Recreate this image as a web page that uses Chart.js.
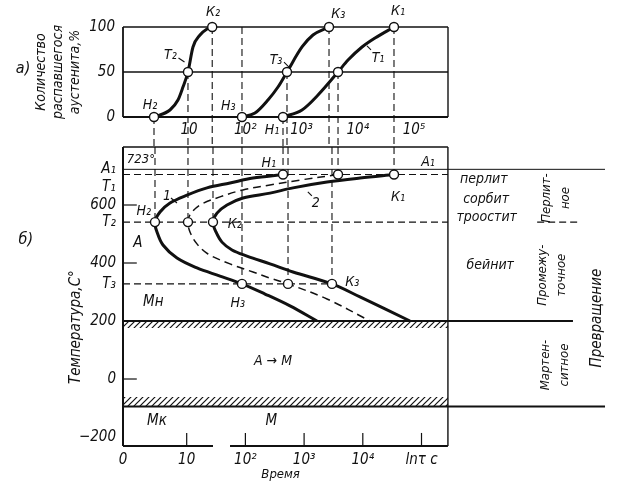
<!DOCTYPE html>
<html>
<head>
<meta charset="utf-8">
<script src="https://cdn.jsdelivr.net/npm/chart.js@4.4.1/dist/chart.umd.min.js"></script>
<style>
  html, body { margin: 0; background: #fff; }
  #wrap { position: relative; width: 623px; height: 488px; }
  canvas { position: absolute; left: 0; top: 0; }
</style>
</head>
<body>
<div id="wrap">
  <canvas id="top" width="623" height="488"></canvas>
  <canvas id="bot" width="623" height="488"></canvas>
</div>
<script>
// --- panel a): share of decomposed austenite vs lg(time) ---
const aTicks = [1, 2, 3, 4, 5]
const aTickLabels = ['10', '10²', '10³', '10⁴', '10⁵']
const aPct = [0, 50, 100]

// isotherm T2
const a2x = [0.378, 0.662, 0.804, 0.893, 0.982, 1.071, 1.196, 1.32, 1.413]
const a2y = [0, 7.8, 18.9, 33.3, 50, 77.8, 91.1, 97.8, 100]
// isotherm T3
const a3x = [1.942, 2.173, 2.404, 2.582, 2.742, 3.009, 3.204, 3.489]
const a3y = [0, 4.4, 18.9, 33.3, 50, 77.8, 91.1, 100]
// isotherm T1
const a1x = [2.671, 3.009, 3.293, 3.649, 3.827, 4.076, 4.307, 4.644]
const a1y = [0, 7.8, 24.4, 50, 63.3, 77.8, 87.8, 100]

// H2 T2 K2 H3 T3 K3 H1 T1 K1
const aPtX = [0.378, 0.982, 1.413, 1.942, 2.742, 3.489, 2.671, 3.649, 4.644]
const aPtY = [0, 50, 100, 0, 50, 100, 0, 50, 100]
const aDropFrom = [0, 50, 100, 100, 50, 100, 0, 50, 100]

// --- panel б): temperature vs lg(time) ---
const bTicksX = [-0.085, 1, 2, 3, 4, 5]
const bTickLabelsX = ['0', '10', '10²', '10³', '10⁴', 'lnτ c']
const bTicksY = [723, 600, 541, 400, 328, 200, 0, -200]
const bTickLabelsY = ['A₁', '600', 'T₂', '400', 'T₃', '200', '0', '−200']
const A1 = 723, T1 = 705, T2 = 541, T3 = 328, Mn = 200, Mk = -95

// curve 1: start of transformation
const startX = [2.641, 2.129, 1.738, 1.346, 1.005, 0.716, 0.545, 0.46, 0.494, 0.596, 0.835, 1.175, 1.567, 1.942, 2.334, 2.76, 3.22]
const startT = [705, 693, 676, 659, 634, 607, 576, 541, 507, 462, 417, 383, 355, 328, 293, 252, 200]
// 50 % line
const halfX = [3.578, 2.93, 2.419, 1.959, 1.567, 1.227, 1.056, 1.022, 1.056, 1.175, 1.363, 1.738, 2.129, 2.419, 2.726, 3.39, 4.123]
const halfT = [705, 686, 669, 652, 628, 600, 566, 541, 507, 466, 431, 397, 369, 348, 328, 276, 200]
// curve 2: end of transformation
const endX = [4.532, 3.952, 3.39, 2.811, 2.419, 1.959, 1.687, 1.516, 1.448, 1.499, 1.601, 1.772, 2.027, 2.419, 2.811, 3.475, 3.952, 4.804]
const endT = [705, 693, 679, 659, 641, 624, 600, 572, 541, 507, 472, 445, 424, 397, 369, 328, 283, 200]

const bPtX = [0.46, 1.022, 1.448, 1.942, 2.726, 3.475, 2.641, 3.578, 4.532]
const bPtT = [T2, T2, T2, T3, T3, T3, T1, T1, T1]

const ink = '#111'
const F = '"DejaVu Sans Condensed", "DejaVu Sans", sans-serif'
const boxL = -0.085, boxR = 5.45, bTop = 800, bBot = -231

function pts(xs, ys) { return xs.map((x, i) => ({x, y: ys[i]})) }
function seg(x0, y0, x1, y1) { return [{x: x0, y: y0}, {x: x1, y: y1}] }
function ln(data, o) {
  return Object.assign({data, showLine: true, pointRadius: 0, borderColor: ink, borderWidth: 1.4,
    fill: false, clip: false, order: 3, tension: 0}, o || {})
}
const dash = {borderDash: [7, 4], borderWidth: 1.1}

function hatch() {
  const c = document.createElement('canvas')
  c.width = 6; c.height = 6
  const g = c.getContext('2d')
  g.strokeStyle = ink; g.lineWidth = 1.2
  g.beginPath()
  g.moveTo(0, 6); g.lineTo(6, 0)
  g.moveTo(-1, 1); g.lineTo(1, -1)
  g.moveTo(5, 7); g.lineTo(7, 5)
  g.stroke()
  return g.createPattern(c, 'repeat')
}

// labels at data coordinates; `lead` is a short leader stroke in pixels from the label centre
function makeTexts(items) {
  return {
    id: 'texts',
    afterDraw(chart) {
      const {ctx, scales: {x, y}} = chart
      ctx.save()
      ctx.fillStyle = ink
      ctx.strokeStyle = ink
      ctx.lineWidth = 1.1
      ctx.textBaseline = 'middle'
      for (const it of items) {
        ctx.font = `italic ${it.size || 14}px ${F}`
        ctx.textAlign = it.align || 'center'
        ctx.save()
        ctx.translate(x.getPixelForValue(it.x), y.getPixelForValue(it.y))
        if (it.rot) ctx.rotate(-Math.PI / 2)
        const lines = [].concat(it.t)
        lines.forEach((s, i) => ctx.fillText(s, 0, (i - (lines.length - 1) / 2) * (it.lh || 19)))
        if (it.lead) {
          ctx.beginPath()
          ctx.moveTo(it.lead[0], it.lead[1])
          ctx.lineTo(it.lead[2], it.lead[3])
          ctx.stroke()
        }
        ctx.restore()
      }
      ctx.restore()
    }
  }
}

const tickFont = {family: F, size: 15, style: 'italic'}
const baseOpts = {
  responsive: false, animation: false,
  plugins: {legend: {display: false}, tooltip: {enabled: false}},
}

// ---------- top chart ----------
const aTexts = [
  {t: 'К₂', x: 1.427, y: 116.7}, {t: 'T₂', x: 0.671, y: 68.9, lead: [8, 3, 14, 7]},
  {t: 'Н₂', x: 0.307, y: 13.3},
  {t: 'Н₃', x: 1.698, y: 12.2}, {t: 'T₃', x: 2.547, y: 63.3, lead: [8, 2, 13, 7]},
  {t: 'T₁', x: 4.36, y: 65.6, lead: [-7, -8, -11, -12]},
  {t: 'К₃', x: 3.653, y: 114.4}, {t: 'К₁', x: 4.716, y: 117.8}, {t: 'Н₁', x: 2.476, y: -14.4},
  {t: 'а)', x: -1.95, y: 54, size: 16}
]
const aMin = -0.173, aMax = 5.604
const topSets = [
  {data: pts(aPtX, aPtY), pointRadius: 4.5, pointBackgroundColor: '#fff', pointBorderColor: ink,
   pointBorderWidth: 1.4, clip: false, order: 0},
  ln(pts(a2x, a2y), {borderWidth: 3, cubicInterpolationMode: 'monotone', order: 1}),
  ln(pts(a3x, a3y), {borderWidth: 3, cubicInterpolationMode: 'monotone', order: 1}),
  ln(pts(a1x, a1y), {borderWidth: 3, cubicInterpolationMode: 'monotone', order: 1}),
  ...aPtX.map((x, i) => ln(seg(x, aDropFrom[i], x, -33.3), dash)),
  ...aPct.map(p => ln(seg(aMin, p, aMax, p), {borderWidth: p === 0 ? 2 : 1.4})),
  ln(seg(aMin, 0, aMin, 100), {borderWidth: 1.8}),
  ln(seg(aMax, 0, aMax, 100), {borderWidth: 1.4}),
]
new Chart(document.getElementById('top'), {
  type: 'scatter',
  data: {datasets: topSets},
  options: Object.assign({}, baseOpts, {
    layout: {padding: {top: 27, right: 175, left: 0, bottom: 0}},
    scales: {
      x: {type: 'linear', min: aMin, max: aMax,
        grid: {display: false, drawTicks: false}, border: {display: false},
        afterBuildTicks: s => { s.ticks = aTicks.map(v => ({value: v})) },
        afterFit: s => { s.height = 488 - 117 },
        ticks: {padding: 4, color: ink, font: tickFont, autoSkip: false, maxRotation: 0,
          callback: (v, i) => aTickLabels[i]}},
      y: {type: 'linear', min: 0, max: 100,
        grid: {display: false, drawTicks: false}, border: {display: false},
        afterBuildTicks: s => { s.ticks = aPct.map(v => ({value: v})) },
        afterFit: s => { s.width = 123 },
        ticks: {padding: 8, color: ink, font: tickFont, callback: (v, i) => String(aPct[i])},
        title: {display: true, text: ['Количество', 'распавшегося', 'аустенита,%'], color: ink,
          font: {family: F, size: 14, style: 'italic'}, padding: {top: 33, bottom: 0}}}
    }
  }),
  plugins: [makeTexts(aTexts)]
})

// ---------- bottom chart ----------
const bTexts = [
  {t: '723°', x: -0.02, y: 758, align: 'left', size: 13}, {t: 'A₁', x: 5.11, y: 748},
  {t: 'Н₁', x: 2.40, y: 745}, {t: 'К₁', x: 4.6, y: 628},
  {t: '2', x: 3.2, y: 607, lead: [-4, -7, -8, -11]}, {t: '1', x: 0.664, y: 631, lead: [4, 2, 10, 7]},
  {t: 'Н₂', x: 0.27, y: 579}, {t: 'К₂', x: 1.82, y: 534}, {t: 'A', x: 0.17, y: 469, size: 15},
  {t: 'Мн', x: 0.43, y: 265, size: 15}, {t: 'Н₃', x: 1.87, y: 262}, {t: 'К₃', x: 3.82, y: 334},
  {t: 'A → M', x: 2.47, y: 62}, {t: 'Мк', x: 0.494, y: -145, size: 15}, {t: 'M', x: 2.44, y: -145, size: 15},
  {t: 'Время', x: 2.6, y: -331, size: 13}, {t: 'б)', x: -1.74, y: 479, size: 16},
  {t: 'T₁', x: -0.21, y: 662, align: 'right', size: 15},
  {t: 'перлит', x: 6.06, y: 690}, {t: 'сорбит', x: 6.1, y: 621}, {t: 'троостит', x: 6.11, y: 559},
  {t: 'бейнит', x: 6.17, y: 393},
  {t: ['Перлит-', 'ное'], x: 7.29, y: 624, rot: true, size: 13},
  {t: ['Промежу-', 'точное'], x: 7.22, y: 358, rot: true, size: 13},
  {t: ['Мартен-', 'ситное'], x: 7.27, y: 48, rot: true, size: 13},
  {t: 'Превращение', x: 7.99, y: 210, rot: true, size: 15},
  {t: 'Температура,С°', x: -0.886, y: 179, rot: true, size: 15}
]
const bMax = 8.245, lineEnd = 8.126
const pat = hatch()
const botSets = [
  {data: pts(bPtX, bPtT), pointRadius: 4.5, pointBackgroundColor: '#fff', pointBorderColor: ink,
   pointBorderWidth: 1.4, clip: false, order: 0},
  ln(pts(startX, startT), {borderWidth: 3, tension: 0.35, order: 1}),
  ln(pts(halfX, halfT), {borderWidth: 1.5, borderDash: [8, 5], tension: 0.35, order: 1}),
  ln(pts(endX, endT), {borderWidth: 3, tension: 0.35, order: 1}),
  ...bPtX.map((x, i) => ln(seg(x, bTop, x, bPtT[i]), dash)),
  ln(seg(boxL, T1, boxR, T1), dash),
  ln(seg(boxL, T2, boxR, T2), dash),
  ln(seg(6.97, T2, 7.70, T2), dash),
  ln(seg(boxL, T3, bPtX[5], T3), dash),
  ln(seg(boxL, A1, lineEnd, A1), {borderWidth: 1}),
  ln(seg(boxL, Mn, 7.58, Mn), {borderWidth: 2}),
  ln(seg(boxL, Mk, lineEnd, Mk), {borderWidth: 2}),
  ln(seg(boxL, 176, boxR, 176), {borderWidth: 0, fill: {value: Mn}, backgroundColor: pat}),
  ln(seg(boxL, -62, boxR, -62), {borderWidth: 0, fill: {value: Mk}, backgroundColor: pat}),
  ln(seg(boxL, bTop, boxR, bTop), {borderWidth: 1.4}),
  ln(seg(boxL, bTop, boxL, bBot), {borderWidth: 2}),
  ln(seg(boxR, bTop, boxR, bBot), {borderWidth: 1.4}),
  ln(seg(boxL, bBot, 1.448, bBot), {borderWidth: 2}),
  ln(seg(1.738, bBot, boxR, bBot), {borderWidth: 2}),
  ...bTicksX.slice(1).map(v => ln(seg(v, bBot, v, -186), {borderWidth: 1.2})),
  ...[600, 400, 0].map(t => ln(seg(boxL, t, 0.15, t), {borderWidth: 1.2})),
]
new Chart(document.getElementById('bot'), {
  type: 'scatter',
  data: {datasets: botSets},
  options: Object.assign({}, baseOpts, {
    layout: {padding: {top: 147, right: 11, left: 0, bottom: 0}},
    scales: {
      x: {type: 'linear', min: boxL, max: bMax,
        grid: {display: false, drawTicks: false}, border: {display: false},
        afterBuildTicks: s => { s.ticks = bTicksX.map(v => ({value: v})) },
        afterFit: s => { s.height = 488 - 446 },
        ticks: {padding: 5, color: ink, font: tickFont, autoSkip: false, maxRotation: 0,
          callback: (v, i) => bTickLabelsX[i]}},
      y: {type: 'linear', min: bBot, max: bTop,
        grid: {display: false, drawTicks: false}, border: {display: false},
        afterBuildTicks: s => { s.ticks = bTicksY.map(v => ({value: v})) },
        afterFit: s => { s.width = 123 },
        ticks: {padding: 7, color: ink, font: tickFont, autoSkip: false,
          callback: (v, i) => bTickLabelsY[i]}}
    }
  }),
  plugins: [makeTexts(bTexts)]
})
</script>
</body>
</html>
